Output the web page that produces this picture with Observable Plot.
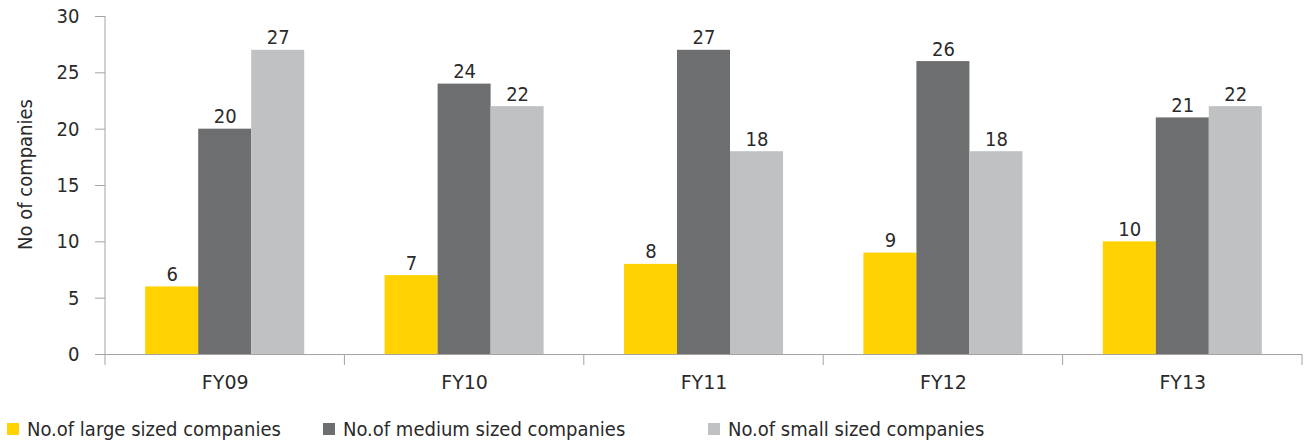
<!DOCTYPE html>
<html><head><meta charset="utf-8">
<script src="https://cdn.jsdelivr.net/npm/d3@7"></script>
<script src="https://cdn.jsdelivr.net/npm/@observablehq/plot@0.6"></script>
<style>
body{margin:0;background:#fff;font-family:"DejaVu Sans Condensed","DejaVu Sans",sans-serif;color:#2a2a2a;}
#chart svg{display:block;}
#legend{display:flex;height:34px;align-items:center;padding-top:3px;box-sizing:border-box;font-size:20px;}
#legend .item{display:flex;align-items:center;}
#legend .sw{width:12px;height:12px;margin-left:7px;margin-right:8px;}
</style></head><body><div id="chart"></div><div id="legend"></div>
<script>
const years = ["FY09", "FY10", "FY11", "FY12", "FY13"];
const series = ["No.of large sized companies", "No.of medium sized companies", "No.of small sized companies"];
const large = [6, 7, 8, 9, 10];
const medium = [20, 24, 27, 26, 21];
const small = [27, 22, 18, 18, 22];
const yTicks = [0, 5, 10, 15, 20, 25, 30];
const colors = ["#FFD200", "#6D6E70", "#C0C1C3"];
const legendWidths = [316, 385, 400];

const values = [large, medium, small];
const data = years.flatMap((yr, i) => values.map((vals, j) => ({year: yr, series: series[j], value: vals[i]})));

const axisGray = "#a3a3a3";
const plot = Plot.plot({
  width: 1305, height: 410,
  marginLeft: 105, marginRight: 3, marginTop: 16, marginBottom: 56,
  style: {fontFamily: "'DejaVu Sans Condensed','DejaVu Sans',sans-serif", color: "#2a2a2a", background: "#fff"},
  fx: {domain: years, padding: 0, round: false},
  x: {domain: series, paddingInner: 0, paddingOuter: 0.758, round: false, axis: null},
  y: {domain: [0, 30], ticks: yTicks},
  color: {domain: series, range: colors},
  marks: [
    Plot.barY(data, {fx: "year", x: "series", y: "value", fill: "series"}),
    Plot.ruleY([0], {stroke: axisGray, strokeWidth: 1}),
    Plot.text(data, {fx: "year", x: "series", y: "value", text: d => String(d.value), lineAnchor: "bottom", dy: -6, fontSize: 20, fill: "#2a2a2a"}),
    Plot.axisY({ticks: yTicks, tickSize: 10, tickPadding: 16, fontSize: 20, stroke: axisGray, fill: "#2a2a2a",
      label: "No of companies", labelAnchor: "center", labelOffset: 88, labelArrow: "none"}),
    Plot.axisFx({anchor: "bottom", tickSize: 0, tickPadding: 21, fontSize: 19, fontFamily: "'DejaVu Sans',sans-serif", fill: "#2a2a2a", label: null})
  ]
});
document.getElementById("chart").appendChild(plot);

// axis line and category boundary ticks, positioned through the plot's own scales
const fx = plot.scale("fx"), y = plot.scale("y");
const svg = d3.select(plot);
const g = svg.append("g").attr("stroke", axisGray).attr("stroke-width", 1);
const x0 = fx.apply(years[0]);
g.append("line").attr("x1", x0).attr("x2", x0).attr("y1", y.apply(30)).attr("y2", y.apply(0));
const bounds = years.map(v => fx.apply(v)).concat([fx.apply(years[years.length - 1]) + fx.bandwidth]);
bounds.forEach(b => g.append("line").attr("x1", b).attr("x2", b).attr("y1", y.apply(0)).attr("y2", y.apply(0) + 11));

// nudge the y-axis title slightly upward, as in the reference
svg.selectAll('g[aria-label="y-axis label"] text').attr("dx", 11);

// legend
const lg = d3.select("#legend");
series.forEach((s, i) => {
  const it = lg.append("div").attr("class", "item").style("width", legendWidths[i] + "px");
  it.append("div").attr("class", "sw").style("background", colors[i]);
  it.append("span").text(s);
});
</script>
</body></html>
